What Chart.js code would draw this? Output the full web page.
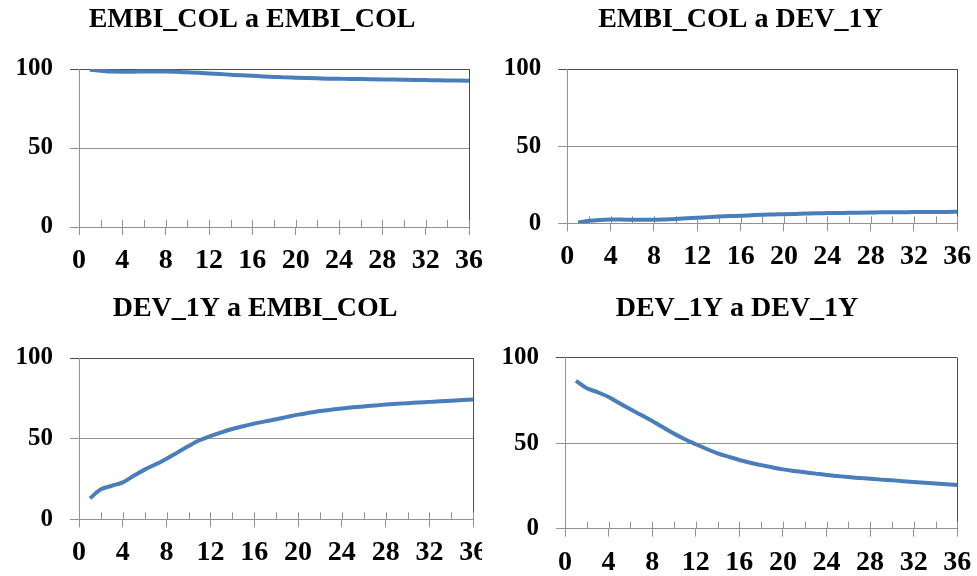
<!DOCTYPE html>
<html>
<head>
<meta charset="utf-8">
<script src="https://cdn.jsdelivr.net/npm/chart.js@4.4.0/dist/chart.umd.min.js"></script>
<style>
  html, body { margin: 0; padding: 0; background: #ffffff; }
  #wrap { position: relative; width: 977px; height: 576px; overflow: hidden; background: #ffffff; }
  .cell { position: absolute; overflow: hidden; }
  canvas { position: absolute; left: 0; top: 0; display: block; }
</style>
</head>
<body>
<div id="wrap">
  <div class="cell" style="left:0px;top:0px;width:488px;height:290px"><canvas id="p1" width="504" height="290"></canvas></div>
  <div class="cell" style="left:488px;top:0px;width:489px;height:290px"><canvas id="p2" width="505" height="290"></canvas></div>
  <div class="cell" style="left:0px;top:290px;width:482px;height:286px"><canvas id="p3" width="510" height="286"></canvas></div>
  <div class="cell" style="left:488px;top:290px;width:489px;height:286px"><canvas id="p4" width="498" height="286"></canvas></div>
</div>
<script>
// Horizon (months after the shock)
const horizon = [1, 2, 3, 4, 5, 6, 7, 8, 9, 10, 11, 12, 13, 14, 15, 16, 17, 18,
                 19, 20, 21, 22, 23, 24, 25, 26, 27, 28, 29, 30, 31, 32, 33, 34, 35, 36];

// Panel titles
const titles = ["EMBI_COL a EMBI_COL", "EMBI_COL a DEV_1Y", "DEV_1Y a EMBI_COL", "DEV_1Y a DEV_1Y"];

// Share of forecast-error variance (%) for each pair
const embiToEmbi = [99.5, 98.9, 98.4, 98.3, 98.3, 98.4, 98.4, 98.4, 98.2, 97.9, 97.6, 97.2,
                    96.8, 96.4, 96.0, 95.7, 95.3, 95.0, 94.7, 94.5, 94.3, 94.1, 93.9, 93.8,
                    93.7, 93.6, 93.5, 93.4, 93.3, 93.2, 93.1, 93.0, 92.9, 92.8, 92.7, 92.6];
const embiToDev = [0.5, 1.6, 2.2, 2.4, 2.4, 2.3, 2.3, 2.3, 2.5, 2.8, 3.2, 3.6,
                   4.0, 4.4, 4.7, 4.9, 5.2, 5.5, 5.7, 5.9, 6.1, 6.3, 6.5, 6.6,
                   6.7, 6.8, 6.9, 7.0, 7.1, 7.1, 7.2, 7.3, 7.3, 7.4, 7.4, 7.5];
const devToEmbi = [13.0, 18.6, 20.8, 22.9, 27.0, 30.8, 34.1, 37.6, 41.5, 45.4, 49.0, 51.6,
                   53.9, 56.0, 57.7, 59.3, 60.7, 62.0, 63.5, 64.9, 66.0, 67.1, 67.9, 68.7,
                   69.4, 70.0, 70.6, 71.1, 71.6, 72.0, 72.4, 72.8, 73.2, 73.5, 73.9, 74.3];
const devToDev = [86.5, 82.1, 79.8, 77.0, 73.3, 69.8, 66.5, 63.0, 59.3, 55.6, 52.3, 49.4,
                  46.6, 44.1, 42.1, 40.2, 38.6, 37.2, 35.9, 34.7, 33.8, 33.0, 32.2, 31.4,
                  30.8, 30.2, 29.7, 29.2, 28.7, 28.3, 27.8, 27.3, 26.9, 26.5, 26.0, 25.5];

// Axis ranges and ticks
const xMin = 0, xMax = 36, xStep = 2, xLabelEvery = 4;
const yMin = 0, yMax = 100, yStep = 50;

const series = [embiToEmbi, embiToDev, devToEmbi, devToDev];

// Box geometry of each panel (title is centred on the canvas width;
// an empty right-hand axis reserves the space right of the plot)
const panels = [
  { id: "p1", rightGap: 35,   padT: 3.2, titleGap: 32.2, yWidth: 79,   xHeight: 63 },
  { id: "p2", rightGap: 35.7, padT: 3.2, titleGap: 32.2, yWidth: 79.3, xHeight: 66.7 },
  { id: "p3", rightGap: 36.7, padT: 1.5, titleGap: 32.9, yWidth: 79,   xHeight: 56.7 },
  { id: "p4", rightGap: 28.7, padT: 1.5, titleGap: 32.6, yWidth: 77,   xHeight: 47.3 }
];

const FONT = "'Liberation Serif', 'Times New Roman', serif";
const LINE_BLUE = "#4a7ebb";
const AXIS_GREY = "#929292";
const FRAME_DARK = "#4d4d4d";

// Right frame edge and the short inward tick marks on the horizontal axis
const framePlugin = {
  id: "frame",
  beforeDatasetsDraw(chart) {
    const { ctx, chartArea: a, scales } = chart;
    ctx.save();
    ctx.lineWidth = 1;
    ctx.strokeStyle = FRAME_DARK;
    ctx.beginPath();
    ctx.moveTo(Math.round(a.right) + 0.5, a.top);
    ctx.lineTo(Math.round(a.right) + 0.5, a.bottom);
    ctx.stroke();
    ctx.strokeStyle = AXIS_GREY;
    ctx.beginPath();
    scales.x.ticks.forEach(t => {
      const px = Math.round(scales.x.getPixelForValue(t.value)) + 0.5;
      ctx.moveTo(px, a.bottom);
      ctx.lineTo(px, a.bottom - 7);
    });
    ctx.stroke();
    ctx.restore();
  }
};

panels.forEach((p, i) => {
  const points = horizon.map((h, k) => ({ x: h, y: series[i][k] }));
  new Chart(document.getElementById(p.id), {
    type: "line",
    data: {
      datasets: [{
        data: points,
        borderColor: LINE_BLUE,
        borderWidth: 4,
        pointRadius: 0,
        tension: 0.4,
        cubicInterpolationMode: "monotone",
        fill: false
      }]
    },
    options: {
      responsive: false,
      animation: false,
      events: [],
      layout: { padding: { left: 0, right: 0, top: p.padT, bottom: 0 } },
      plugins: {
        legend: { display: false },
        tooltip: { enabled: false },
        title: {
          display: true,
          text: titles[i],
          color: "#000000",
          font: { family: FONT, size: 28, weight: "bold", lineHeight: 1.2 },
          padding: { top: 0, bottom: p.titleGap }
        }
      },
      scales: {
        x: {
          type: "linear",
          min: xMin,
          max: xMax,
          afterFit(scale) { scale.height = p.xHeight; },
          border: { display: true, color: AXIS_GREY, width: 1 },
          grid: {
            drawOnChartArea: false,
            drawTicks: true,
            tickLength: 8,
            color: ctx => (ctx.tick && ctx.tick.value % xLabelEvery === 0) ? AXIS_GREY : "rgba(0,0,0,0)"
          },
          ticks: {
            stepSize: xStep,
            autoSkip: false,
            maxRotation: 0,
            padding: 9,
            color: "#000000",
            font: { family: FONT, size: 28, weight: "bold" },
            callback: v => (v % xLabelEvery === 0 ? String(v) : "")
          }
        },
        y: {
          min: yMin,
          max: yMax,
          afterFit(scale) { scale.width = p.yWidth; },
          border: { display: true, color: AXIS_GREY, width: 1 },
          grid: {
            drawTicks: true,
            tickLength: 9,
            color: ctx => (ctx.tick && ctx.tick.value === yMax) ? FRAME_DARK : AXIS_GREY
          },
          ticks: {
            stepSize: yStep,
            padding: 17,
            color: "#000000",
            font: { family: FONT, size: 25, weight: "bold" }
          }
        },
        yRight: {
          position: "right",
          min: yMin,
          max: yMax,
          afterFit(scale) { scale.width = p.rightGap; },
          grid: { display: false },
          border: { display: false },
          ticks: { display: false }
        }
      }
    },
    plugins: [framePlugin]
  });
});
</script>
</body>
</html>
